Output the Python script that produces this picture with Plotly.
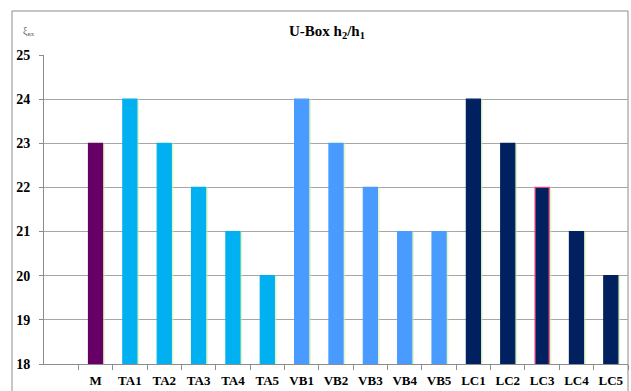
import plotly.graph_objects as go

# Data
categories = ["M", "TA1", "TA2", "TA3", "TA4", "TA5",
              "VB1", "VB2", "VB3", "VB4", "VB5",
              "LC1", "LC2", "LC3", "LC4", "LC5"]
values = [23, 24, 23, 22, 21, 20, 24, 23, 22, 21, 21, 24, 23, 22, 21, 20]

group_colors = {"M": "#660066", "TA": "#00B0F0", "VB": "#4A9BFF", "LC": "#002060"}
bar_colors = [group_colors["M"] if c == "M" else group_colors[c[:2]] for c in categories]
edge_colors = ["#E8407E" if c == "LC3" else col for c, col in zip(categories, bar_colors)]

W, H = 631, 391
ML, MR, MT, MB = 44, 3, 55, 27
PW, PH = W - ML - MR, H - MT - MB

def px_x(p):
    return (p - ML) / PW

def px_y(p):
    return 1 - (p - MT) / PH

fig = go.Figure()

# soft light-green glow behind the bars
fig.add_trace(go.Bar(
    x=categories, y=values, width=0.47, offset=-0.20,
    marker=dict(color="rgba(205,240,160,0.6)", line=dict(width=0)),
    hoverinfo="skip", showlegend=False, base=0,
))
fig.add_trace(go.Bar(
    x=categories, y=values, width=0.41, offset=-0.205,
    marker=dict(color=bar_colors, line=dict(color=edge_colors, width=1.2)),
    showlegend=False, base=0,
))

fig.update_layout(
    width=W, height=H,
    margin=dict(l=ML, r=MR, t=MT, b=MB),
    paper_bgcolor="white", plot_bgcolor="white",
    barmode="overlay",
    font=dict(family="Liberation Serif, Times New Roman, serif", color="black"),
    xaxis=dict(
        type="category", categoryorder="array", categoryarray=categories,
        range=[-1.5, 15.5], tickson="boundaries",
        ticks="outside", ticklen=5, tickcolor="#8C8C8C",
        showline=True, linecolor="#8C8C8C", linewidth=1,
        showgrid=False, zeroline=False, ticklabelstandoff=4,
        tickfont=dict(family="Liberation Serif, serif", size=13, color="black", weight="bold"),
    ),
    yaxis=dict(
        range=[18, 25], dtick=1, tick0=18,
        ticks="outside", ticklen=4, tickcolor="#8C8C8C",
        showline=True, linecolor="#8C8C8C", linewidth=1,
        showgrid=True, gridcolor="#A6A6A6", gridwidth=1.2, zeroline=False,
        tickfont=dict(family="Liberation Serif, serif", size=14, color="black", weight="bold"),
        ticklabelstandoff=6,
    ),
    shapes=[
        # outer chart frame
        dict(type="rect", xref="paper", yref="paper",
             x0=px_x(12), x1=px_x(628), y0=px_y(398), y1=px_y(11),
             line=dict(color="#8C8C8C", width=1), fillcolor="rgba(0,0,0,0)", layer="below"),
    ],
    annotations=[
        dict(text="<b>U-Box h<sub>2</sub>/h<sub>1</sub></b>", xref="paper", yref="paper",
             x=px_x(327), y=px_y(32), showarrow=False, xanchor="center", yanchor="middle",
             font=dict(family="Liberation Serif, serif", size=15, color="black")),
        dict(text="ξ<sub>вх</sub>", xref="paper", yref="paper",
             x=px_x(21), y=px_y(32), showarrow=False, xanchor="left", yanchor="middle",
             font=dict(family="Liberation Serif, serif", size=10, color="#666666")),
    ],
)

fig.write_html("out.html")
